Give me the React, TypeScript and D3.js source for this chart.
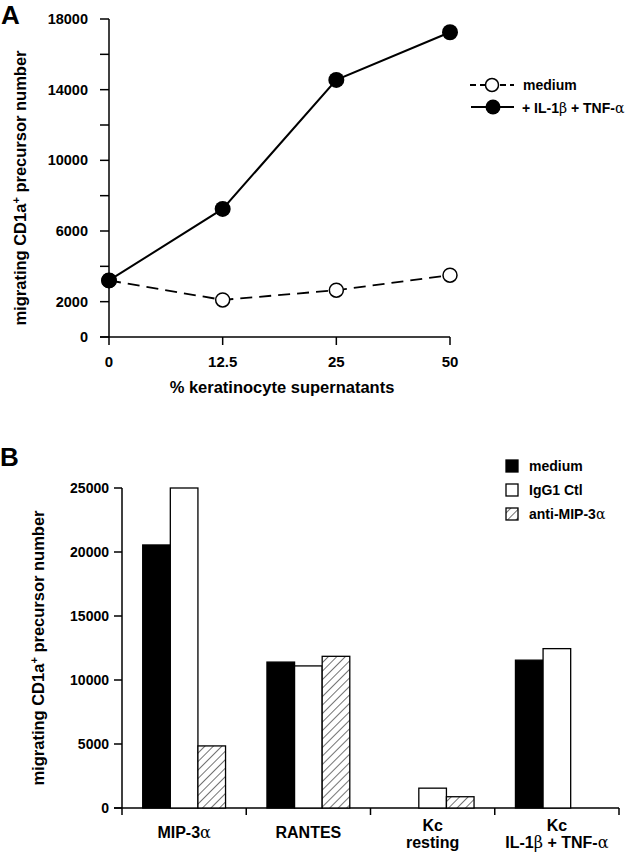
import React from 'react';
import * as d3 from 'd3';

const xCatsA = ['0', '12.5', '25', '50'];
const mediumA = [3200, 2100, 2650, 3500];
const stimA = [3200, 7250, 14550, 17250];
const yTicksA = [0, 2000, 4000, 6000, 8000, 10000, 12000, 14000, 16000, 18000];
const yLabelsA = [0, 2000, 6000, 10000, 14000, 18000];

const catsB = ['MIP-3α', 'RANTES', 'Kc resting', 'Kc IL-1β + TNF-α'];
const seriesB = ['medium', 'IgG1 Ctl', 'anti-MIP-3α'];
const mediumB = [20550, 11400, 0, 11550];
const iggB = [25000, 11100, 1550, 12450];
const antiB = [4850, 11850, 880, 0];
const yTicksB = [0, 5000, 10000, 15000, 20000, 25000];

const FONT = '"Liberation Sans", Arial, Helvetica, sans-serif';
const GREEK = '"DejaVu Serif", "Liberation Serif", serif';

function Greek({ c }: { c: string }) {
  return <tspan fontFamily={GREEK} fontWeight="normal">{c}</tspan>;
}

function renderLabel(s: string) {
  const parts = s.split(/([αβ])/);
  return parts.map((p, i) => (p === 'α' || p === 'β' ? <Greek key={i} c={p} /> : <tspan key={i}>{p}</tspan>));
}

export default function App() {
  // Panel A
  const xA = d3.scalePoint<string>().domain(xCatsA).range([109, 450]);
  const yA = d3.scaleLinear().domain([0, 18000]).range([337, 19]);
  const lineA = d3.line<number>().x((_, i) => xA(xCatsA[i]) as number).y((d) => yA(d));

  // Panel B
  const xB = d3.scaleBand<string>().domain(catsB).range([122, 619]).paddingInner(0).paddingOuter(0);
  const xB1 = d3.scaleBand<string>().domain(seriesB).range([0, xB.bandwidth()]).paddingInner(0).paddingOuter(0.75);
  const yB = d3.scaleLinear().domain([0, 25000]).range([808, 488]);
  const valsB = [mediumB, iggB, antiB];
  const fills = ['#000', '#fff', 'url(#hatch)'];

  return (
    <svg width={625} height={853} style={{ position: 'absolute', left: 0, top: 0, background: '#fff' }} fontFamily={FONT} fontWeight="bold">
      <defs>
        <pattern id="hatch" patternUnits="userSpaceOnUse" width={6} height={6} patternTransform="rotate(45)">
          <rect width={6} height={6} fill="#fff" />
          <line x1={0} y1={0} x2={0} y2={6} stroke="#000" strokeWidth={1.1} />
        </pattern>
      </defs>

      {/* Panel A */}
      <text x={1} y={24} fontSize={26} fontWeight="bold">A</text>
      <line x1={109} x2={109} y1={19} y2={337} stroke="#000" strokeWidth={1.5} />
      <line x1={100} x2={450} y1={337} y2={337} stroke="#000" strokeWidth={1.5} />
      {yTicksA.map((t) => (
        <line key={t} x1={100} x2={109} y1={yA(t)} y2={yA(t)} stroke="#000" strokeWidth={1.5} />
      ))}
      {yLabelsA.map((t) => (
        <text key={t} x={88} y={yA(t)} dy="0.35em" textAnchor="end" fontSize={14.5}>{t}</text>
      ))}
      {xCatsA.map((c) => (
        <g key={c}>
          <line x1={xA(c)} x2={xA(c)} y1={337} y2={345} stroke="#000" strokeWidth={1.5} />
          <text x={xA(c)} y={362} dy="0.35em" textAnchor="middle" fontSize={15}>{c}</text>
        </g>
      ))}
      <text x={282} y={393} textAnchor="middle" fontSize={16.5}>% keratinocyte supernatants</text>
      <text transform="translate(26,188) rotate(-90)" textAnchor="middle" fontSize={16.5}>
        migrating CD1a<tspan dy={-6} fontSize={11}>+</tspan><tspan dy={6}> precursor number</tspan>
      </text>

      <path d={lineA(mediumA) || ''} fill="none" stroke="#000" strokeWidth={1.8} strokeDasharray="12,7" />
      <path d={lineA(stimA) || ''} fill="none" stroke="#000" strokeWidth={2} />
      {mediumA.map((v, i) => (
        <circle key={'m' + i} cx={xA(xCatsA[i])} cy={yA(v)} r={7} fill="#fff" stroke="#000" strokeWidth={1.5} />
      ))}
      {stimA.map((v, i) => (
        <circle key={'s' + i} cx={xA(xCatsA[i])} cy={yA(v)} r={8} fill="#000" />
      ))}

      {/* Legend A */}
      <line x1={470} x2={514} y1={85} y2={85} stroke="#000" strokeWidth={1.8} strokeDasharray="6,4" />
      <circle cx={492} cy={85} r={6.5} fill="#fff" stroke="#000" strokeWidth={1.5} />
      <text x={523} y={85} dy="0.35em" fontSize={14}>medium</text>
      <line x1={471} x2={514} y1={107} y2={107} stroke="#000" strokeWidth={2} />
      <circle cx={493} cy={107} r={7.5} fill="#000" />
      <text x={522} y={108} dy="0.35em" fontSize={14}>{renderLabel('+ IL-1β + TNF-α')}</text>

      {/* Panel B */}
      <text x={0} y={466} fontSize={26} fontWeight="bold">B</text>
      <line x1={122} x2={122} y1={488} y2={808} stroke="#000" strokeWidth={1.5} />
      <line x1={114} x2={619} y1={808} y2={808} stroke="#000" strokeWidth={1.5} />
      {yTicksB.map((t) => (
        <g key={t}>
          <line x1={114} x2={122} y1={yB(t)} y2={yB(t)} stroke="#000" strokeWidth={1.5} />
          <text x={109} y={yB(t)} dy="0.35em" textAnchor="end" fontSize={14}>{t}</text>
        </g>
      ))}
      {catsB.map((c) => (
        <line key={c} x1={(xB(c) as number) + xB.bandwidth()} x2={(xB(c) as number) + xB.bandwidth()} y1={808} y2={815} stroke="#000" strokeWidth={1.5} />
      ))}
      <line x1={122} x2={122} y1={808} y2={815} stroke="#000" strokeWidth={1.5} />
      {catsB.map((c, ci) =>
        seriesB.map((s, si) => {
          const v = valsB[si][ci];
          if (v <= 0) return null;
          const x = (xB(c) as number) + (xB1(s) as number);
          return (
            <rect key={c + s} x={x} y={yB(v)} width={xB1.bandwidth()} height={808 - yB(v)}
              fill={fills[si]} stroke="#000" strokeWidth={1.3} />
          );
        })
      )}
      {catsB.map((c) => {
        const cx = (xB(c) as number) + xB.bandwidth() / 2;
        if (c.startsWith('Kc ')) {
          const rest = c.slice(3);
          return (
            <text key={c} x={cx} textAnchor="middle" fontSize={16}>
              <tspan x={cx} y={831}>Kc</tspan>
              <tspan x={cx} y={848}>{renderLabel(rest)}</tspan>
            </text>
          );
        }
        return (
          <text key={c} x={cx} y={838} textAnchor="middle" fontSize={16}>{renderLabel(c)}</text>
        );
      })}
      <text transform="translate(44,648) rotate(-90)" textAnchor="middle" fontSize={16.5}>
        migrating CD1a<tspan dy={-6} fontSize={11}>+</tspan><tspan dy={6}> precursor number</tspan>
      </text>

      {/* Legend B */}
      {seriesB.map((s, i) => (
        <g key={s}>
          <rect x={506} y={460 + i * 24} width={12} height={12} fill={fills[i]} stroke="#000" strokeWidth={1.3} />
          <text x={529} y={466 + i * 24} dy="0.35em" fontSize={14}>{renderLabel(s)}</text>
        </g>
      ))}
    </svg>
  );
}
